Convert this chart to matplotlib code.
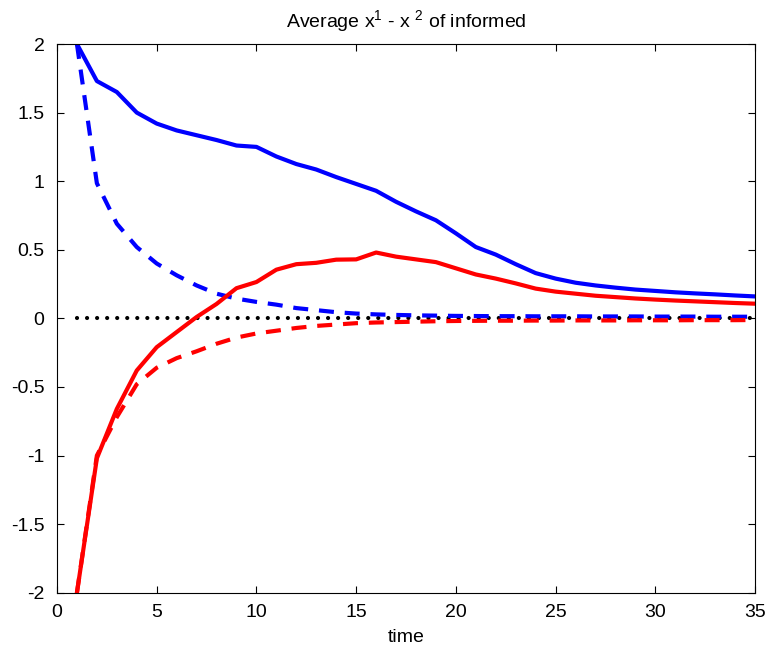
import numpy as np
import matplotlib
matplotlib.use('Agg')
import matplotlib.pyplot as plt

plt.rcParams['font.family'] = ['Liberation Sans', 'DejaVu Sans']
plt.rcParams['mathtext.fontset'] = 'custom'
plt.rcParams['mathtext.rm'] = 'Liberation Sans'
plt.rcParams['mathtext.it'] = 'Liberation Sans'

time = np.arange(1, 36)

blue_solid = [2.0, 1.73, 1.65, 1.50, 1.42, 1.37, 1.335, 1.30, 1.26, 1.25,
              1.18, 1.125, 1.085, 1.03, 0.98, 0.93, 0.85, 0.78, 0.715, 0.62,
              0.52, 0.465, 0.395, 0.33, 0.29, 0.26, 0.24, 0.224, 0.21, 0.20,
              0.19, 0.182, 0.175, 0.167, 0.16]
red_solid = [-2.0, -1.02, -0.66, -0.38, -0.21, -0.10, 0.01, 0.105, 0.22, 0.265,
             0.355, 0.395, 0.405, 0.428, 0.43, 0.48, 0.45, 0.43, 0.41, 0.365,
             0.32, 0.29, 0.255, 0.217, 0.195, 0.18, 0.165, 0.155, 0.145, 0.137,
             0.13, 0.124, 0.118, 0.112, 0.107]
blue_dash = [2.0, 0.985, 0.69, 0.52, 0.40, 0.314, 0.24, 0.18, 0.144, 0.12,
             0.10, 0.075, 0.06, 0.045, 0.035, 0.029, 0.025, 0.022, 0.02, 0.018,
             0.017, 0.016, 0.016, 0.015, 0.015, 0.015, 0.014, 0.014, 0.014, 0.013,
             0.013, 0.013, 0.012, 0.012, 0.012]
red_dash = [-2.0, -1.0, -0.72, -0.48, -0.36, -0.29, -0.24, -0.185, -0.14, -0.11,
            -0.09, -0.07, -0.055, -0.045, -0.035, -0.03, -0.027, -0.024, -0.021, -0.019,
            -0.018, -0.017, -0.017, -0.016, -0.016, -0.015, -0.015, -0.015, -0.014, -0.014,
            -0.014, -0.013, -0.013, -0.013, -0.012]
zero_line = [0.0] * len(time)

fig = plt.figure(figsize=(7.67, 6.51), dpi=100)
ax = fig.add_axes([0.0743, 0.0895, 0.9101, 0.8429])

ax.plot(time, zero_line, color='black', lw=3, linestyle=(0, (0.01, 2.4)),
        dash_capstyle='round')
ax.plot(time, blue_dash, color='blue', lw=3, linestyle=(0, (3.6, 2.6)))
ax.plot(time, red_dash, color='red', lw=3, linestyle=(0, (3.6, 2.6)))
ax.plot(time, blue_solid, color='blue', lw=3)
ax.plot(time, red_solid, color='red', lw=3)

ax.set_xlim(0, 35)
ax.set_ylim(-2, 2)
ax.set_xticks([0, 5, 10, 15, 20, 25, 30, 35])
ax.set_yticks([-2, -1.5, -1, -0.5, 0, 0.5, 1, 1.5, 2])
ax.set_yticklabels(['-2', '-1.5', '-1', '-0.5', '0', '0.5', '1', '1.5', '2'])
ax.tick_params(direction='in', top=True, right=True, labelsize=14, length=5)
ax.tick_params(axis='y', pad=9)
ax.tick_params(axis='x', pad=8)
ax.set_xlabel('time', fontsize=14, labelpad=6)
ax.set_title('Average x$^1$ - x $^2$ of informed', fontsize=14, pad=12)

fig.savefig('out.png', dpi=100)
